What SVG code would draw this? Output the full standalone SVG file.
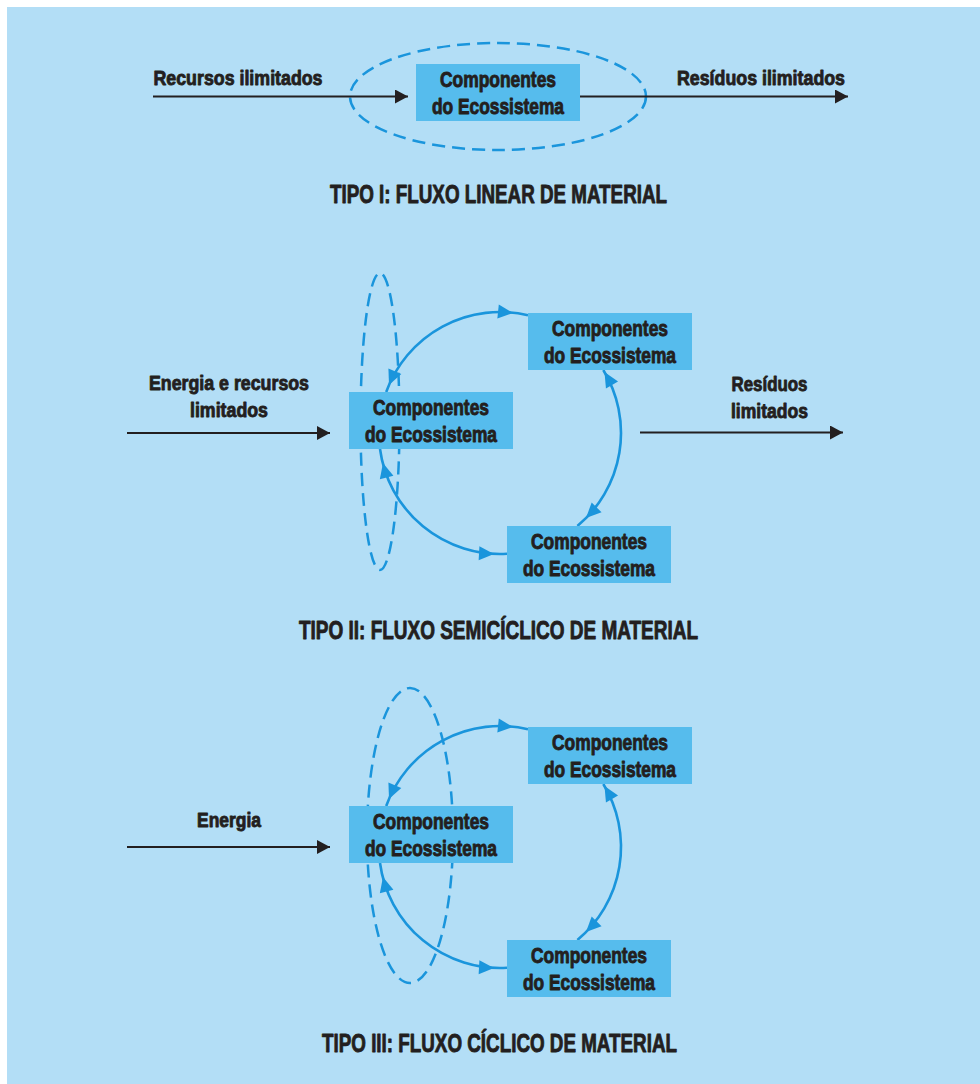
<svg xmlns="http://www.w3.org/2000/svg" xmlns:xlink="http://www.w3.org/1999/xlink" width="980" height="1084" viewBox="0 0 980 1084">
<style>
.t{font-family:"Liberation Sans",Arial,sans-serif;font-weight:bold;fill:#231f20;stroke:#231f20;stroke-width:0.9;stroke-linejoin:round;}
.bx{font-size:21.5px;text-anchor:middle;}
.lb{font-size:20.5px;}
.ti{font-size:25.5px;text-anchor:middle;}
.box{fill:#56bced;}
.dash{fill:none;stroke:#1a95dc;stroke-width:2.5;stroke-dasharray:13 7;}
.arc{fill:none;stroke:#1a95dc;stroke-width:2.6;}
.blk{fill:none;stroke:#231f20;stroke-width:2;}
.bh{fill:#1a95dc;}
</style>
<defs>
<marker id="ah" markerUnits="userSpaceOnUse" markerWidth="14" markerHeight="16" refX="13" refY="7" orient="auto"><path d="M0,0 L13,7 L0,14 z" fill="#231f20"/></marker>
<path id="bh" d="M0,0 L-15,-7 L-15,7 z"/>
</defs>
<rect x="0" y="0" width="980" height="1084" fill="#ffffff"/>
<rect x="7" y="7" width="973" height="1077" fill="#b3def6"/>

<g id="boundaries">
<ellipse class="dash" cx="498" cy="96.5" rx="148" ry="53.5"/>
<ellipse class="dash" cx="380" cy="421.5" rx="19.5" ry="148.5"/>
<ellipse class="dash" cx="410" cy="835.5" rx="43" ry="147.5"/>
</g>

<g id="connectors">
<!-- Tipo I -->
<line class="blk" x1="153" y1="96.5" x2="408" y2="96.5" marker-end="url(#ah)"/>
<line class="blk" x1="580" y1="96.5" x2="848" y2="96.5" marker-end="url(#ah)"/>
<!-- Tipo II -->
<line class="blk" x1="127" y1="433" x2="330" y2="433" marker-end="url(#ah)"/>
<line class="blk" x1="640" y1="432.5" x2="843" y2="432.5" marker-end="url(#ah)"/>
<path class="arc" d="M386.2,392 A121,121 0 0 1 528,315.3"/>
<path class="arc" d="M603.3,370 A121,121 0 0 1 577.4,526"/>
<path class="arc" d="M380,449 A121,121 0 0 0 507,553.8"/>
<use xlink:href="#bh" class="bh" transform="translate(513,313) rotate(6)"/>
<use xlink:href="#bh" class="bh" transform="translate(389,385) rotate(113)"/>
<use xlink:href="#bh" class="bh" transform="translate(383,463) rotate(256)"/>
<use xlink:href="#bh" class="bh" transform="translate(494,554) rotate(3)"/>
<use xlink:href="#bh" class="bh" transform="translate(604.5,372) rotate(240)"/>
<use xlink:href="#bh" class="bh" transform="translate(586,518) rotate(135)"/>
<!-- Tipo III -->
<line class="blk" x1="127" y1="847" x2="330" y2="847" marker-end="url(#ah)"/>
<g transform="translate(0,414)">
<path class="arc" d="M386.2,392 A121,121 0 0 1 528,315.3"/>
<path class="arc" d="M603.3,370 A121,121 0 0 1 577.4,526"/>
<path class="arc" d="M380,449 A121,121 0 0 0 507,553.8"/>
<use xlink:href="#bh" class="bh" transform="translate(513,313) rotate(6)"/>
<use xlink:href="#bh" class="bh" transform="translate(389,385) rotate(113)"/>
<use xlink:href="#bh" class="bh" transform="translate(383,463) rotate(256)"/>
<use xlink:href="#bh" class="bh" transform="translate(494,554) rotate(3)"/>
<use xlink:href="#bh" class="bh" transform="translate(604.5,372) rotate(240)"/>
<use xlink:href="#bh" class="bh" transform="translate(586,518) rotate(135)"/>
</g>
</g>

<!-- Tipo I nodes -->
<g id="n1">
<rect class="box" x="416" y="64" width="164" height="57"/>
<text class="t bx" x="498" y="87" textLength="116" lengthAdjust="spacingAndGlyphs">Componentes</text>
<text class="t bx" x="498" y="113.5" textLength="132" lengthAdjust="spacingAndGlyphs">do Ecossistema</text>
</g>
<g id="l1a"><text class="t lb" x="153.5" y="85" textLength="169" lengthAdjust="spacingAndGlyphs">Recursos ilimitados</text></g>
<g id="l1b"><text class="t lb" x="677" y="85" textLength="168" lengthAdjust="spacingAndGlyphs">Resíduos ilimitados</text></g>
<g id="title1"><text class="t ti" x="498.5" y="203" textLength="337" lengthAdjust="spacingAndGlyphs">TIPO I: FLUXO LINEAR DE MATERIAL</text></g>

<!-- Tipo II nodes -->
<g id="n2a">
<rect class="box" x="349" y="392" width="164" height="57"/>
<text class="t bx" x="431" y="415" textLength="116" lengthAdjust="spacingAndGlyphs">Componentes</text>
<text class="t bx" x="431" y="441.5" textLength="132" lengthAdjust="spacingAndGlyphs">do Ecossistema</text>
</g>
<g id="n2b">
<rect class="box" x="528" y="313" width="164" height="57"/>
<text class="t bx" x="610" y="336" textLength="116" lengthAdjust="spacingAndGlyphs">Componentes</text>
<text class="t bx" x="610" y="362.5" textLength="132" lengthAdjust="spacingAndGlyphs">do Ecossistema</text>
</g>
<g id="n2c">
<rect class="box" x="507" y="526" width="164" height="57"/>
<text class="t bx" x="589" y="549" textLength="116" lengthAdjust="spacingAndGlyphs">Componentes</text>
<text class="t bx" x="589" y="575.5" textLength="132" lengthAdjust="spacingAndGlyphs">do Ecossistema</text>
</g>
<g id="l2a">
<text class="t lb" x="229" y="390" text-anchor="middle" textLength="160" lengthAdjust="spacingAndGlyphs">Energia e recursos</text>
<text class="t lb" x="229" y="417" text-anchor="middle" textLength="78" lengthAdjust="spacingAndGlyphs">limitados</text>
</g>
<g id="l2b">
<text class="t lb" x="769.5" y="390.5" text-anchor="middle" textLength="76" lengthAdjust="spacingAndGlyphs">Resíduos</text>
<text class="t lb" x="769.5" y="418" text-anchor="middle" textLength="77" lengthAdjust="spacingAndGlyphs">limitados</text>
</g>
<g id="title2"><text class="t ti" x="498.5" y="638.5" textLength="399" lengthAdjust="spacingAndGlyphs">TIPO II: FLUXO SEMICÍCLICO DE MATERIAL</text></g>

<!-- Tipo III nodes -->
<g id="n3a">
<rect class="box" x="349" y="806" width="164" height="57"/>
<text class="t bx" x="431" y="829" textLength="116" lengthAdjust="spacingAndGlyphs">Componentes</text>
<text class="t bx" x="431" y="855.5" textLength="132" lengthAdjust="spacingAndGlyphs">do Ecossistema</text>
</g>
<g id="n3b">
<rect class="box" x="528" y="727" width="164" height="57"/>
<text class="t bx" x="610" y="750" textLength="116" lengthAdjust="spacingAndGlyphs">Componentes</text>
<text class="t bx" x="610" y="776.5" textLength="132" lengthAdjust="spacingAndGlyphs">do Ecossistema</text>
</g>
<g id="n3c">
<rect class="box" x="507" y="940" width="164" height="57"/>
<text class="t bx" x="589" y="963" textLength="116" lengthAdjust="spacingAndGlyphs">Componentes</text>
<text class="t bx" x="589" y="989.5" textLength="132" lengthAdjust="spacingAndGlyphs">do Ecossistema</text>
</g>
<g id="l3a"><text class="t lb" x="229" y="827" text-anchor="middle" textLength="64" lengthAdjust="spacingAndGlyphs">Energia</text></g>
<g id="title3"><text class="t ti" x="499.5" y="1052" textLength="355" lengthAdjust="spacingAndGlyphs">TIPO III: FLUXO CÍCLICO DE MATERIAL</text></g>
</svg>
